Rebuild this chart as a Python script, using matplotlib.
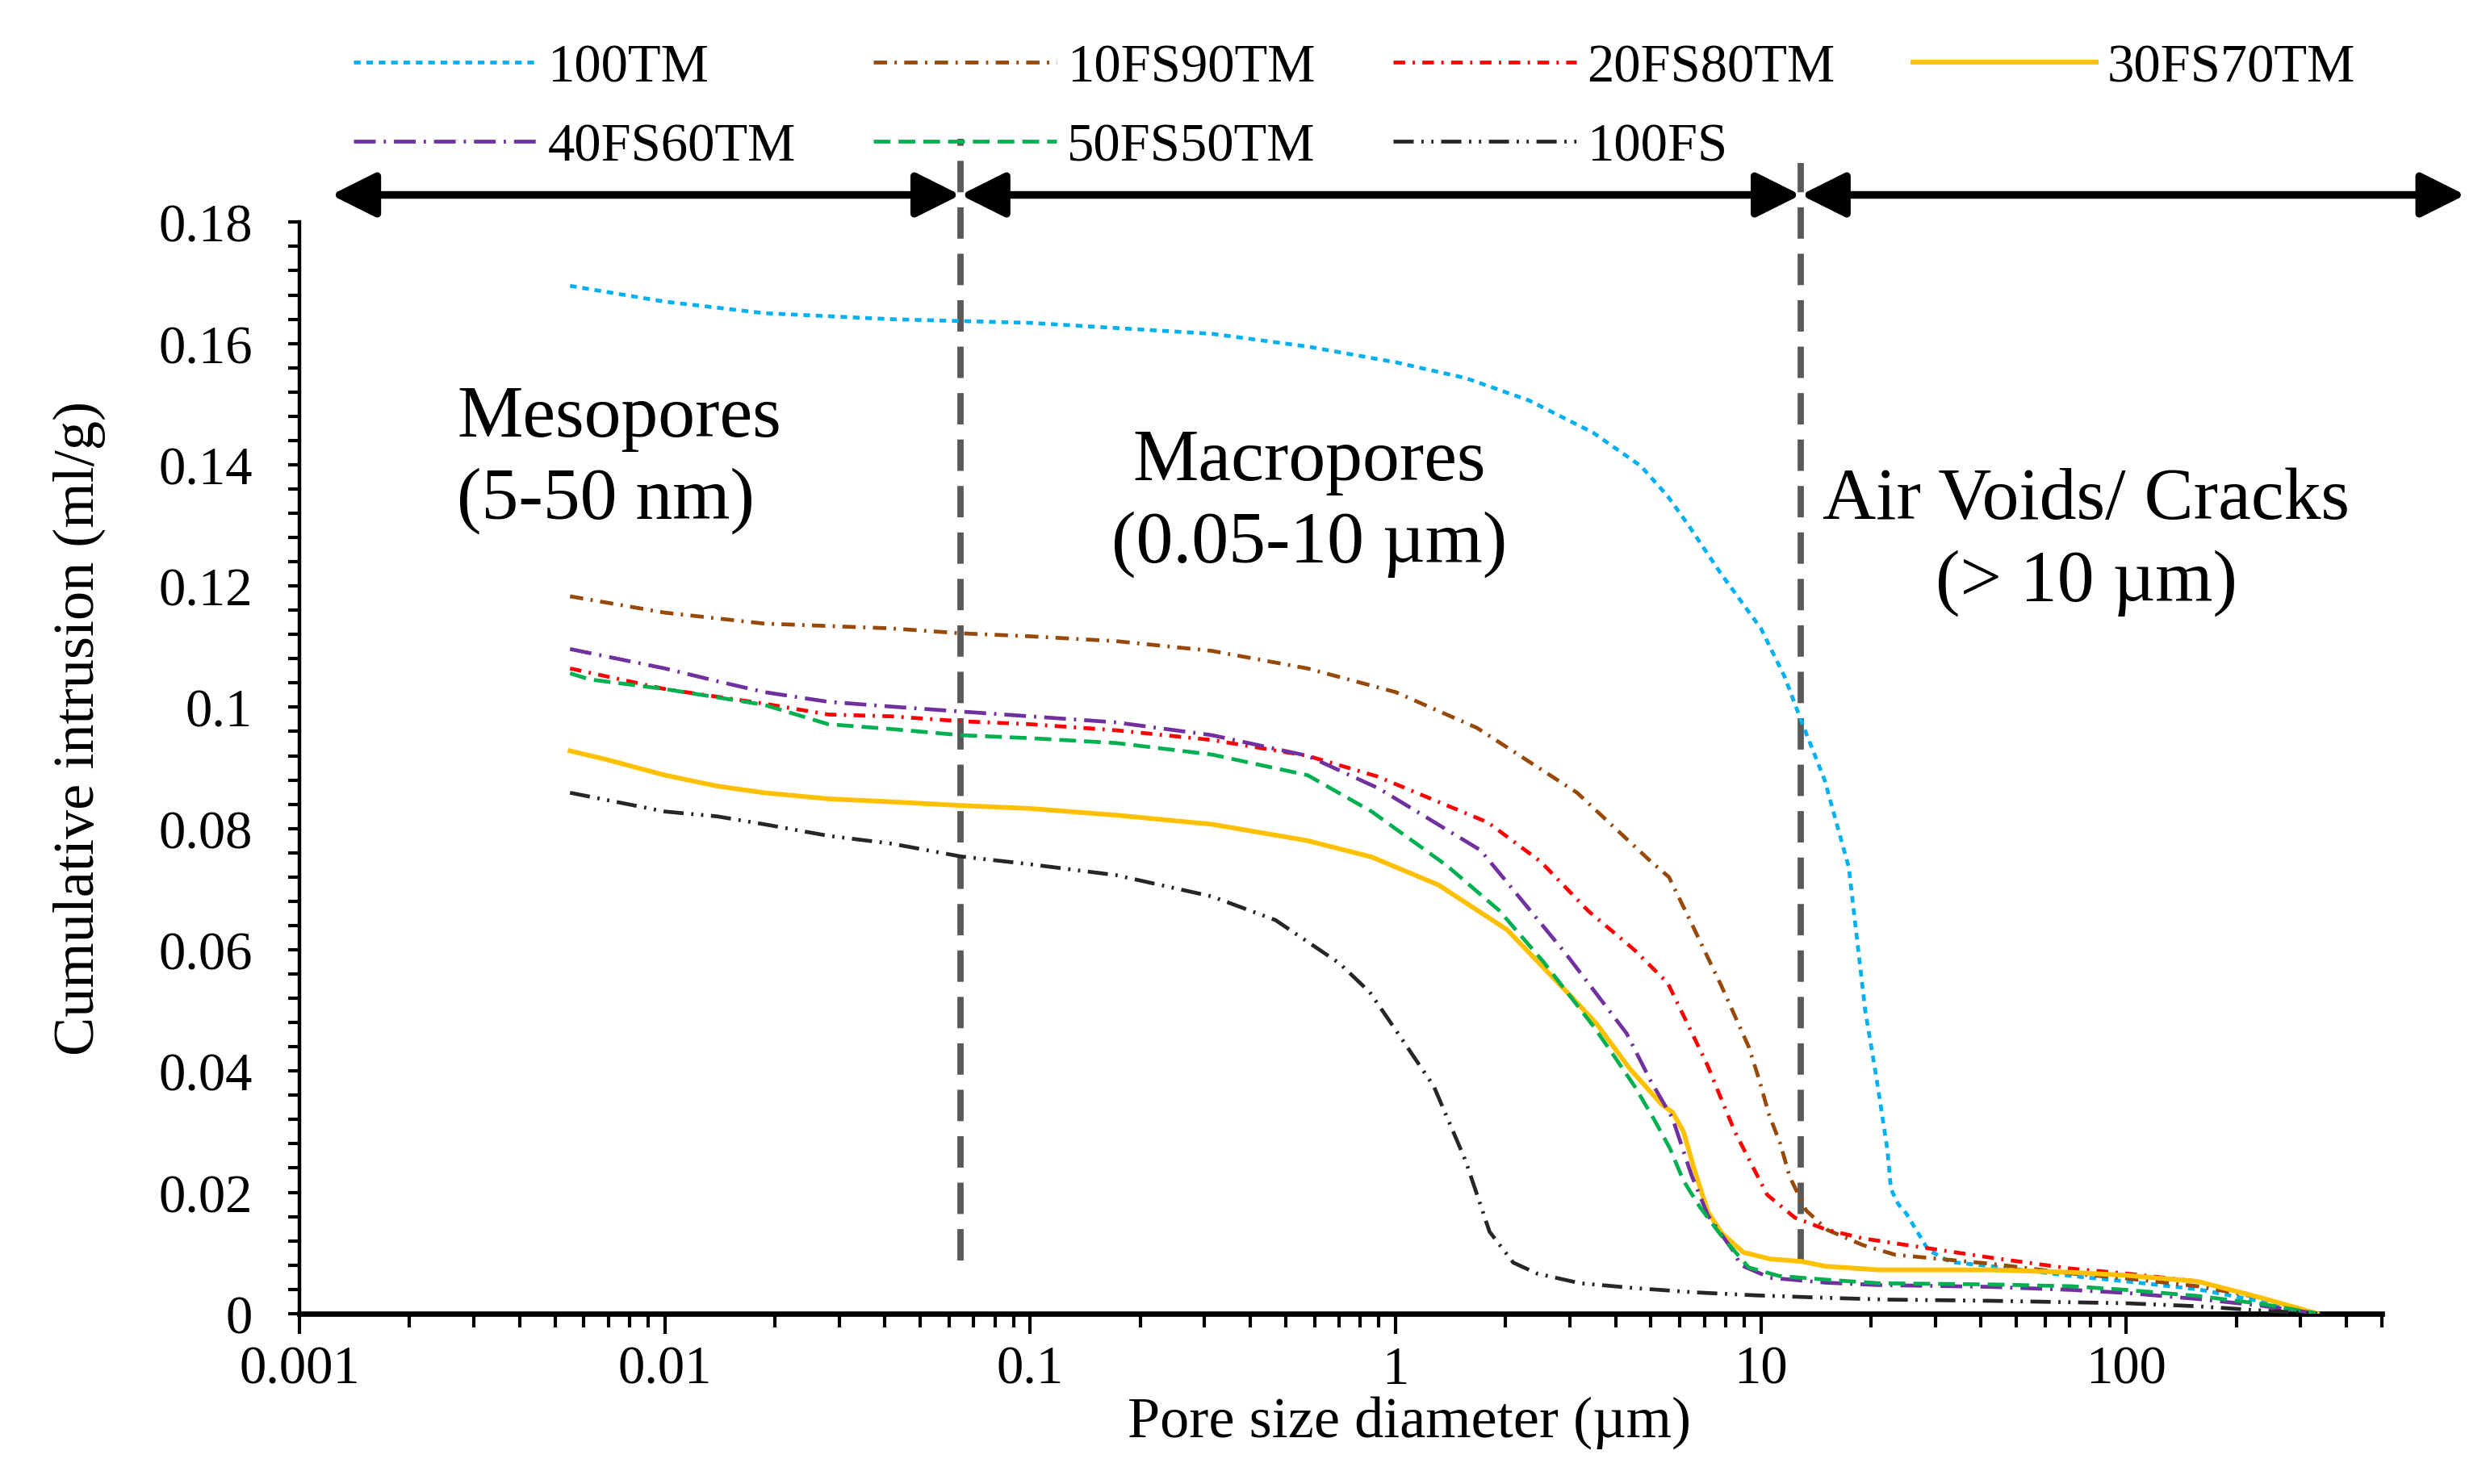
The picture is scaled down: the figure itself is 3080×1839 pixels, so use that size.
import matplotlib
matplotlib.use("Agg")
import matplotlib.pyplot as plt
from matplotlib.ticker import FixedLocator, FuncFormatter, LogLocator, NullFormatter, MultipleLocator

plt.rcParams["font.family"] = ["Liberation Serif", "DejaVu Serif"]

# ─── data (pore diameter in µm, intrusion in ml/g) ───
x_100tm = [0.0055, 0.01, 0.0187, 0.0418, 0.1, 0.314, 0.574, 1.0, 1.555, 2.32, 3.47, 4.69, 5.56,
           6.34, 7.74, 10.0, 11.62, 12.85, 14.94, 17.4, 19.3, 20.7, 22.2, 22.7, 23.8, 25.0, 28.7,
           33.0, 42.8, 70.8, 100, 157, 234, 333]
y_100tm = [0.1695, 0.1669, 0.165, 0.164, 0.1634, 0.1616, 0.1595, 0.1569, 0.1543, 0.1506, 0.1453,
           0.1398, 0.1348, 0.130, 0.1222, 0.113, 0.105, 0.098, 0.088, 0.0736, 0.050, 0.039,
           0.027, 0.0205, 0.018, 0.0165, 0.0105, 0.0085, 0.0078, 0.0062, 0.0053, 0.004, 0.002,
           0.0]

x_10fs = [0.0055, 0.01, 0.0187, 0.0418, 0.0644, 0.1, 0.172, 0.314, 0.574, 1.0, 1.67, 3.14, 5.03,
          5.6, 6.5, 7.8, 9.26, 9.9, 10.5, 11.3, 12.0, 13.3, 15.2, 19.0, 23.3, 42.8, 70.8, 100,
          157, 234, 333]
y_10fs = [0.1183, 0.1156, 0.1138, 0.113, 0.1122, 0.1117, 0.1109, 0.1093, 0.1064, 0.1025, 0.0966,
          0.0859, 0.0744, 0.072, 0.064, 0.054, 0.044, 0.0385, 0.033, 0.028, 0.0225, 0.017,
          0.0138, 0.0113, 0.0097, 0.0082, 0.0066, 0.0058, 0.0045, 0.0026, 0.0]

x_20fs = [0.0055, 0.01, 0.0187, 0.028, 0.0418, 0.0644, 0.1, 0.172, 0.314, 0.574, 0.89, 1.79, 2.5,
          3.37, 4.5, 5.56, 6.52, 7.16, 7.8, 8.5, 9.43, 10.4, 12.4, 15.0, 19.0, 23.8, 42.8, 70.8,
          100, 157, 234, 333]
y_20fs = [0.1064, 0.103, 0.1006, 0.0988, 0.0985, 0.0977, 0.0972, 0.0962, 0.0946, 0.092, 0.0886,
          0.081, 0.0745, 0.0664, 0.060, 0.0545, 0.0459, 0.0408, 0.0353, 0.0299, 0.0246, 0.0196,
          0.0158, 0.0139, 0.0124, 0.0115, 0.0092, 0.0074, 0.0066, 0.0053, 0.0026, 0.0]

x_30fs = [0.0055, 0.0069, 0.01, 0.0139, 0.0187, 0.028, 0.0418, 0.0644, 0.1, 0.172, 0.314, 0.574,
          0.86, 1.31, 2.02, 3.08, 3.55, 4.36, 5.35, 5.73, 6.14, 6.57, 7.16, 7.80, 8.95, 10.6,
          12.9, 15.0, 21.1, 42.8, 70.8, 100, 157, 234, 333]
y_30fs = [0.0928, 0.0914, 0.0888, 0.087, 0.0859, 0.0849, 0.0844, 0.0838, 0.0833, 0.0822, 0.0807,
          0.078, 0.0753, 0.0707, 0.0633, 0.0518, 0.0478, 0.0405, 0.0345, 0.0332, 0.0300, 0.0238,
          0.0168, 0.0133, 0.0101, 0.0090, 0.0086, 0.0078, 0.0072, 0.0072, 0.0068, 0.0063,
          0.0053, 0.0026, 0.0]

x_40fs = [0.0055, 0.01, 0.0139, 0.0187, 0.028, 0.0418, 0.0644, 0.1, 0.172, 0.314, 0.574, 0.90,
          1.71, 2.92, 4.29, 5.0, 5.73, 6.46, 7.16, 8.36, 8.8, 10.6, 15.0, 21.0, 42.8, 70.8, 100,
          157, 234, 333]
y_40fs = [0.1096, 0.1064, 0.1043, 0.1025, 0.1009, 0.1001, 0.0993, 0.0985, 0.0975, 0.0954, 0.092,
          0.0866, 0.0764, 0.0594, 0.0462, 0.0383, 0.0322, 0.0228, 0.0162, 0.0105, 0.0080, 0.0059,
          0.0051, 0.0047, 0.0044, 0.0039, 0.0034, 0.0024, 0.0013, 0.0]

x_50fs = [0.0055, 0.00621, 0.01, 0.0187, 0.028, 0.0418, 0.0644, 0.1, 0.172, 0.314, 0.574, 0.86,
          1.38, 1.92, 2.54, 3.49, 3.93, 4.51, 5.08, 5.63, 6.14, 6.80, 7.8, 9.26, 11.2, 15.0,
          21.0, 42.8, 70.8, 100, 157, 234, 333]
y_50fs = [0.1056, 0.1046, 0.103, 0.1004, 0.0972, 0.0964, 0.0954, 0.0949, 0.0941, 0.0922, 0.0888,
          0.0828, 0.0739, 0.0665, 0.058, 0.0473, 0.0428, 0.0375, 0.0322, 0.0273, 0.0219, 0.0176,
          0.0128, 0.0076, 0.0062, 0.0056, 0.0050, 0.0048, 0.0045, 0.0039, 0.0029, 0.0016, 0.0]

x_100fs = [0.0055, 0.01, 0.0139, 0.0187, 0.028, 0.0418, 0.0644, 0.1, 0.172, 0.314, 0.469, 0.701,
           0.85, 1.0, 1.272, 1.555, 1.808, 2.10, 2.44, 3.2, 4.51, 6.57, 9.7, 15.0, 22.2, 42.8,
           100, 157, 234, 333]
y_100fs = [0.0859, 0.0828, 0.082, 0.0807, 0.0788, 0.0775, 0.0754, 0.0741, 0.0723, 0.0688, 0.0649,
           0.0578, 0.053, 0.0468, 0.0375, 0.0252, 0.0135, 0.0084, 0.0066, 0.0050, 0.0042, 0.0035,
           0.0030, 0.0026, 0.0023, 0.0021, 0.0017, 0.0012, 0.0005, 0.0]

labels = ["100TM", "10FS90TM", "20FS80TM", "30FS70TM", "40FS60TM", "50FS50TM", "100FS"]

# pore class boundaries (µm) and annotation texts
bounds = [0.0644, 12.85]
arrow_x = [0.00122, 0.0644, 12.85, 848]
regions = ["Mesopores\n(5-50 nm)", "Macropores\n(0.05-10 µm)", "Air Voids/ Cracks\n(> 10 µm)"]
region_pos = [(0.0027, 0.141), (0.58, 0.1337), (77.8, 0.1274)]

# ─── styles ───
colors = ["#00B0F0", "#984807", "#FF0000", "#FFC000", "#7030A0", "#00B050", "#262626"]
dashes = [(0, (1.75, 1.5)),
          (0, (3.5, 1.95, 0.6, 1.95)),
          (0, (3.05, 1.95, 0.6, 1.95)),
          "-",
          (0, (5.7, 2.1, 0.6, 2.1)),
          (0, (4.4, 2.1)),
          (0, (5.3, 2.0, 0.6, 2.0, 0.6, 2.0))]
widths = [1.7, 1.7, 1.7, 2.1, 1.7, 1.7, 1.7]

series = [(x_100tm, y_100tm), (x_10fs, y_10fs), (x_20fs, y_20fs), (x_30fs, y_30fs),
          (x_40fs, y_40fs), (x_50fs, y_50fs), (x_100fs, y_100fs)]

fig = plt.figure(figsize=(15.4, 9.2), dpi=200)
ax = fig.add_axes([0.1205, 0.1148, 0.8375, 0.735])

handles = []
for (xs, ys), lab, c, ls, lw in zip(series, labels, colors, dashes, widths):
    h, = ax.plot(xs, ys, color=c, linestyle=ls, linewidth=lw, label=lab, zorder=3)
    handles.append(h)

ax.set_xscale("log")
ax.set_xlim(0.001, 500)
ax.set_ylim(0, 0.18)

# vertical boundary lines, reaching above the plot area
line_tops = [0.1937, 0.1897]
for bx, top in zip(bounds, line_tops):
    ax.plot([bx, bx], [0.0087, top], color="#595959", linewidth=2.8,
            linestyle=(0, (5, 2.4)), clip_on=False, zorder=2)

# double-headed arrows above the axes
for x0, x1 in zip(arrow_x[:-1], arrow_x[1:]):
    ax.annotate("", xy=(x1, 0.1845), xytext=(x0, 0.1845), annotation_clip=False,
                arrowprops=dict(arrowstyle="<|-|>", color="black", lw=3.4,
                                mutation_scale=42, shrinkA=0, shrinkB=0))

for txt, (tx, ty), ha in zip(regions, region_pos, ["left", "center", "center"]):
    ax.text(tx, ty, txt, fontsize=33, ha=ha, va="center",
            multialignment="left" if ha == "left" else "center", linespacing=1.3)

# axes look
for s in ["top", "right"]:
    ax.spines[s].set_visible(False)
ax.spines["left"].set_linewidth(1.6)
ax.spines["bottom"].set_linewidth(2.4)

ax.xaxis.set_major_locator(FixedLocator([0.001, 0.01, 0.1, 1, 10, 100]))
ax.xaxis.set_major_formatter(FuncFormatter(lambda v, p: f"{v:g}"))
ax.xaxis.set_minor_locator(LogLocator(base=10, subs=range(2, 10), numticks=20))
ax.xaxis.set_minor_formatter(NullFormatter())
ax.yaxis.set_major_locator(MultipleLocator(0.02))
ax.yaxis.set_minor_locator(MultipleLocator(0.004))
ax.yaxis.set_major_formatter(FuncFormatter(lambda v, p: f"{round(v, 3):g}"))

ax.tick_params(axis="x", which="major", length=9, width=1.5, pad=5, labelsize=24)
ax.tick_params(axis="x", which="minor", length=6, width=1.5)
ax.tick_params(axis="y", which="both", length=5, width=1.5, pad=16, labelsize=24)

ax.set_xlabel("Pore size diameter (µm)", fontsize=26)
ax.set_ylabel("Cumulative intrusion (ml/g)", fontsize=26)
ax.xaxis.set_label_coords(0.533, -0.075)
ax.yaxis.set_label_coords(-0.093, 0.537)

# legend: two rows, filled row by row
order = [0, 4, 1, 5, 2, 6, 3]
fig.legend([handles[i] for i in order], [labels[i] for i in order],
           loc="upper left", bbox_to_anchor=(0.1423, 0.9705), ncol=4, frameon=False,
           fontsize=24, handlelength=3.4, handletextpad=0.2, columnspacing=1.45,
           labelspacing=0.56, borderpad=0, borderaxespad=0)

fig.savefig("out.png", dpi=200)
